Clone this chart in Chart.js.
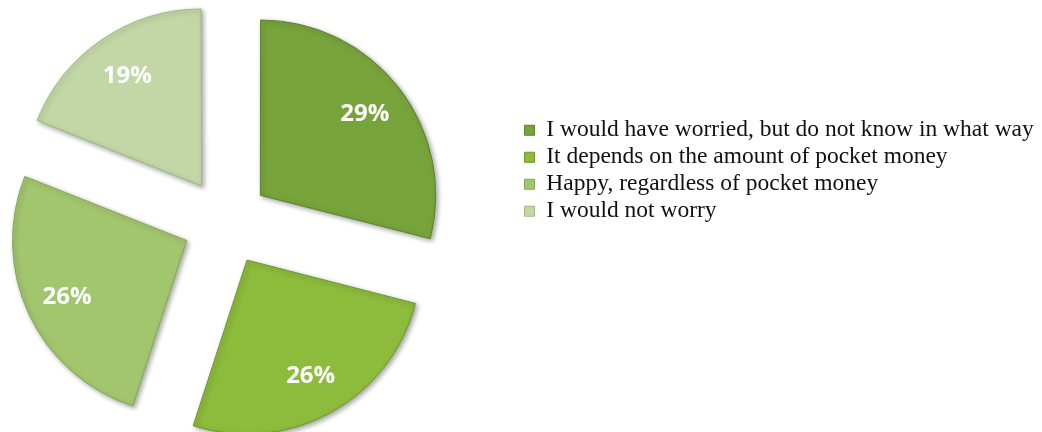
<!DOCTYPE html>
<html>
<head>
<meta charset="utf-8">
<script src="https://cdn.jsdelivr.net/npm/chart.js@4"></script>
<style>
  html, body { margin: 0; padding: 0; background: #fff; }
  #wrap { width: 1042px; height: 432px; }
</style>
</head>
<body>
<div id="wrap"><canvas id="pocketPie"></canvas></div>
<script>
const categorias = [
  'I would have worried, but do not know in what way',
  'It depends on the amount of pocket money',
  'Happy, regardless of pocket money',
  'I would not worry'
];
const porcentajes = [29, 26, 26, 19];
const colores = ['#77a33b', '#8dbb3c', '#a2c66e', '#c3d7a6'];
const bordes = ['#5e8228', '#6f972b', '#84a954', '#9fb784'];

// el pie queda a la izquierda, lejos de la leyenda
const centroPie = {
  id: 'centroPie',
  afterLayout(chart) {
    const a = chart.chartArea;
    a.left = 2 * 226 - a.right;
    a.width = a.right - a.left;
  }
};

// porcentajes escritos dentro de cada porcion
const etiquetasPie = {
  id: 'etiquetasPie',
  beforeDatasetsDraw(chart) {
    const ctx = chart.ctx;
    ctx.save();
    ctx.shadowColor = 'rgba(0,0,0,0.35)';
    ctx.shadowBlur = 5;
    ctx.shadowOffsetX = 2;
    ctx.shadowOffsetY = 2;
  },
  afterDatasetsDraw(chart) {
    const ctx = chart.ctx;
    ctx.restore();
    const meta = chart.getDatasetMeta(0);
    ctx.save();
    ctx.font = 'bold 24px "Open Sans"';
    ctx.fillStyle = '#ffffff';
    ctx.textAlign = 'center';
    ctx.textBaseline = 'middle';
    meta.data.forEach((arc, i) => {
      const p = arc.getProps(['x', 'y', 'startAngle', 'endAngle', 'outerRadius']);
      const mid = (p.startAngle + p.endAngle) / 2;
      const desp = (arc.options.offset || 0) / 4;
      const r = desp + p.outerRadius * 0.76;
      ctx.fillText(porcentajes[i] + '%', p.x + Math.cos(mid) * r, p.y + Math.sin(mid) * r);
    });
    ctx.restore();
  }
};

window.myChart = new Chart(document.getElementById('pocketPie'), {
  type: 'pie',
  data: {
    labels: categorias,
    datasets: [{
      data: porcentajes,
      backgroundColor: colores,
      borderColor: bordes,
      borderWidth: 1,
      offset: 174,
      clip: false
    }]
  },
  options: {
    responsive: true,
    maintainAspectRatio: false,
    animation: false,
    radius: 174,
    layout: { padding: { left: 0, top: 12, right: 0, bottom: 0 } },
    plugins: {
      tooltip: { enabled: false },
      legend: {
        position: 'right',
        align: 'start',
        title: { display: true, text: '', font: { size: 1, lineHeight: 1 }, padding: { top: 102, bottom: 0 } },
        labels: {
          boxWidth: 10,
          boxHeight: 10,
          padding: 3.5,
          color: '#111',
          font: { family: '"Liberation Serif", "Times New Roman", serif', size: 23.5 }
        }
      }
    }
  },
  plugins: [centroPie, etiquetasPie]
});
</script>
</body>
</html>
